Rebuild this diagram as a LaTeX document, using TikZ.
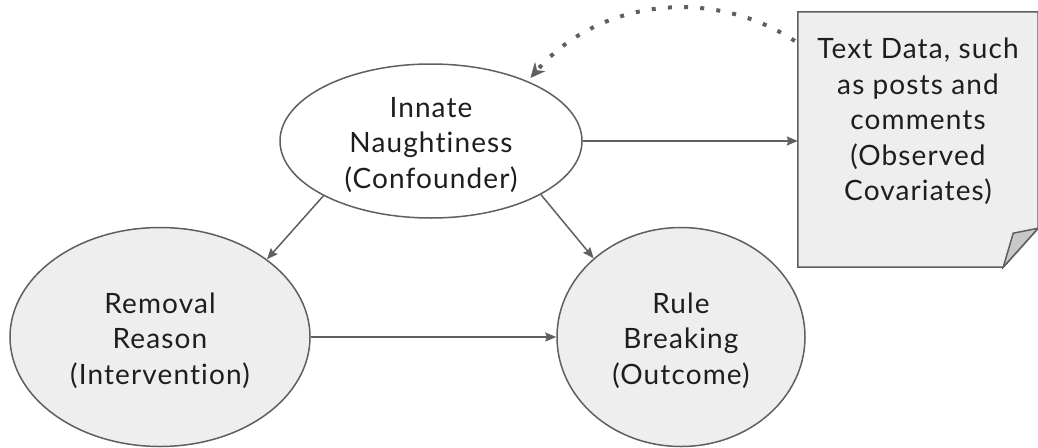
\documentclass[tikz,border=0pt]{standalone}
\usepackage{fontspec}
\setmainfont{Lato}[Ligatures={NoCommon,NoRare,NoDiscretionary},LetterSpace=4]
\usetikzlibrary{shapes.geometric,arrows.meta}
\definecolor{edge}{HTML}{5F5F5F}
\definecolor{shade}{HTML}{EEEEEE}
\definecolor{foldshade}{HTML}{C8C8C8}
\definecolor{ink}{HTML}{1E1E1E}
% extra room above the first line so the text block sits a little lower
\newcommand\firstline{\rule{0pt}{28pt}}
\tikzset{
  label text/.style={font=\fontsize{28}{35.5}\selectfont, text=ink, align=center, inner sep=0pt},
  varnode/.style={ellipse, draw=edge, line width=1.5pt, label text},
  link/.style={draw=edge, line width=1.5pt, -{Stealth[length=11pt,width=9pt,inset=1.5pt]}},
  hint/.style={draw=edge, line width=4pt, line cap=butt, dash pattern=on 4pt off 12.2pt,
    -{Stealth[length=15pt,width=14pt,inset=5pt,line width=0.6pt,fill=edge]}},
  notebox/.style={draw=edge, fill=shade, line width=1.5pt, line join=miter}
}
\begin{document}
\begin{tikzpicture}[x=1pt,y=-1pt]
  \useasboundingbox (0,0) rectangle (1038,447);

  % causal variables
  \node[varnode, fill=white, minimum width=302pt, minimum height=154pt] (conf) at (431,141)
    {\firstline Innate\\Naughtiness\\(Confounder)};
  \node[varnode, fill=shade, minimum width=300pt, minimum height=219pt] (treat) at (160,337)
    {\firstline Removal\\Reason\\(Intervention)};
  \node[varnode, fill=shade, minimum width=248pt, minimum height=219pt] (outc) at (681,337)
    {\firstline Rule\\Breaking\\(Outcome)};

  % note with a folded corner
  \node[rectangle, minimum width=240pt, minimum height=255pt, inner sep=0pt] (note) at (918,139.5) {};
  \path[notebox] (note.north west) -- (note.north east) -- ([yshift=39pt]note.south east)
    -- ([xshift=-35pt]note.south east) -- (note.south west) -- cycle;
  \path[notebox, fill=foldshade] ([xshift=-35pt]note.south east) -- ([xshift=-25pt,yshift=34pt]note.south east)
    -- ([yshift=39pt]note.south east) -- cycle;
  \node[label text, anchor=north] (notetext) at (918,38)
    {Text Data, such\\as posts and\\comments\\(Observed\\Covariates)};

  % arrows
  \draw[link] (conf.east) -- (note.west |- conf.east);
  \draw[link] (conf.-153) -- (treat.36.4);
  \draw[link] (conf.-26.4) -- (outc.138.4);
  \draw[link] (treat.east) -- (outc.west);

  % dotted feedback from the text data
  \coordinate (hintstart) at (note.west |- 0,41);
  \draw[hint] ([xshift=-3pt]hintstart) arc[start angle=-56.6, end angle=-139.3, radius=202];
\end{tikzpicture}
\end{document}
